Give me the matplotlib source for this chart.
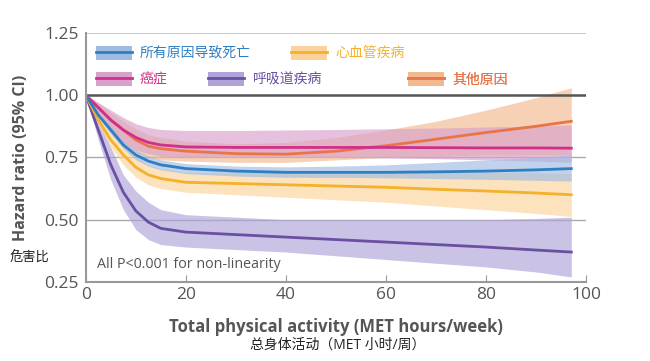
import matplotlib
matplotlib.use("Agg")
import matplotlib.pyplot as plt
from matplotlib.patches import Patch
from matplotlib.lines import Line2D

plt.rcParams['font.family'] = ['Open Sans', 'Noto Sans CJK SC', 'DejaVu Sans']

# MET hours/week
x = [0, 2.5, 5, 7.5, 10, 12.5, 15, 20, 30, 40, 50, 60, 70, 80, 90, 97]

all_cause = [1.0, 0.92, 0.86, 0.80, 0.76, 0.735, 0.72, 0.705, 0.695, 0.69, 0.69, 0.69, 0.692, 0.695, 0.70, 0.705]
all_lo = [1.0, 0.91, 0.845, 0.785, 0.74, 0.715, 0.70, 0.685, 0.675, 0.67, 0.67, 0.668, 0.665, 0.662, 0.658, 0.655]
all_hi = [1.0, 0.93, 0.875, 0.815, 0.78, 0.755, 0.74, 0.725, 0.715, 0.712, 0.715, 0.72, 0.73, 0.74, 0.75, 0.76]

cvd = [1.0, 0.90, 0.82, 0.76, 0.71, 0.68, 0.665, 0.65, 0.645, 0.64, 0.635, 0.63, 0.622, 0.615, 0.607, 0.60]
cvd_lo = [1.0, 0.88, 0.79, 0.72, 0.67, 0.64, 0.625, 0.61, 0.60, 0.59, 0.58, 0.57, 0.555, 0.54, 0.525, 0.513]
cvd_hi = [1.0, 0.92, 0.85, 0.80, 0.75, 0.72, 0.705, 0.69, 0.69, 0.69, 0.69, 0.69, 0.69, 0.69, 0.688, 0.685]

cancer = [1.0, 0.95, 0.90, 0.86, 0.83, 0.81, 0.80, 0.792, 0.79, 0.79, 0.79, 0.79, 0.789, 0.788, 0.788, 0.787]
cancer_lo = [1.0, 0.92, 0.86, 0.81, 0.78, 0.765, 0.755, 0.75, 0.75, 0.75, 0.75, 0.748, 0.745, 0.74, 0.735, 0.73]
cancer_hi = [1.0, 0.97, 0.94, 0.91, 0.885, 0.87, 0.862, 0.858, 0.858, 0.86, 0.862, 0.865, 0.868, 0.872, 0.876, 0.88]

resp = [1.0, 0.86, 0.72, 0.61, 0.535, 0.49, 0.465, 0.45, 0.44, 0.43, 0.42, 0.41, 0.40, 0.39, 0.378, 0.37]
resp_lo = [1.0, 0.82, 0.66, 0.54, 0.46, 0.42, 0.40, 0.39, 0.38, 0.37, 0.355, 0.34, 0.325, 0.31, 0.29, 0.27]
resp_hi = [1.0, 0.90, 0.79, 0.68, 0.615, 0.57, 0.54, 0.52, 0.51, 0.50, 0.50, 0.50, 0.50, 0.50, 0.505, 0.51]

other = [1.0, 0.95, 0.90, 0.86, 0.82, 0.795, 0.785, 0.775, 0.765, 0.763, 0.775, 0.797, 0.823, 0.85, 0.875, 0.895]
other_lo = [1.0, 0.92, 0.86, 0.81, 0.77, 0.75, 0.74, 0.735, 0.73, 0.73, 0.74, 0.75, 0.755, 0.76, 0.76, 0.76]
other_hi = [1.0, 0.97, 0.93, 0.895, 0.865, 0.84, 0.83, 0.815, 0.805, 0.81, 0.83, 0.86, 0.895, 0.94, 0.99, 1.03]

series = [
    ("其他原因", other, other_lo, other_hi, "#e8744a", "#f2b98f"),
    ("癌症", cancer, cancer_lo, cancer_hi, "#d02f8a", "#d9a0cc"),
    ("呼吸道疾病", resp, resp_lo, resp_hi, "#6a4fa3", "#b0a3d8"),
    ("心血管疾病", cvd, cvd_lo, cvd_hi, "#f4b12a", "#fbd39a"),
    ("所有原因导致死亡", all_cause, all_lo, all_hi, "#2f7ec2", "#9fbbe2"),
]

fig = plt.figure(figsize=(6.5, 3.61), dpi=100)
ax = fig.add_axes([0.132, 0.219, 0.770, 0.690])

for name, y, lo, hi, c, bc in series:
    ax.fill_between(x, lo, hi, color=bc, alpha=0.65, lw=0)
for name, y, lo, hi, c, bc in series:
    ax.plot(x, y, color=c, lw=2)

ax.axhline(1.0, color="#555555", lw=1.8, zorder=1)
ax.axhline(1.25, color="#cccccc", lw=1.5, zorder=0)
for v in [0.5, 0.75]:
    ax.axhline(v, color="#aaaaaa", lw=1, zorder=0)

ax.set_xlim(0, 100)
ax.set_ylim(0.25, 1.25)
ax.set_xticks([0, 20, 40, 60, 80, 100])
ax.set_yticks([0.25, 0.5, 0.75, 1.0, 1.25])
ax.set_yticklabels(["0.25", "0.50", "0.75", "1.00", "1.25"])
for s in ["top", "right"]:
    ax.spines[s].set_visible(False)
for s in ["left", "bottom"]:
    ax.spines[s].set_color("#999999")
    ax.spines[s].set_linewidth(1.5)
ax.tick_params(axis="x", direction="in", length=5, color="#999999", labelsize=12.5,
               labelcolor="#555555", pad=4)
ax.tick_params(axis="y", length=0, labelsize=12.5, labelcolor="#555555", pad=5)

ax.set_ylabel("Hazard ratio (95% CI)", fontsize=11.5, fontweight="bold", color="#555555")
ax.yaxis.set_label_coords(-0.114, 0.5)
ax.set_xlabel("Total physical activity (MET hours/week)", fontsize=12, fontweight="bold",
              color="#555555")
ax.xaxis.set_label_coords(0.5, -0.143)
fig.text(0.52, 0.044, "总身体活动（MET 小时/周）", ha="center", va="center", fontsize=10, color="#222222")
fig.text(0.015, 0.285, "危害比", ha="left", va="center", fontsize=9.5, color="#222222")
ax.text(0.022, 0.07, "All P<0.001 for non-linearity", transform=ax.transAxes,
        fontsize=10.3, color="#555555", va="center")

# legend, one entry each
entries = [
    ("所有原因导致死亡", "#2f7ec2", "#9fbbe2", 0.0, 0.985),
    ("心血管疾病", "#f4b12a", "#fbd39a", 0.39, 0.985),
    ("癌症", "#d02f8a", "#d9a0cc", 0.0, 0.88),
    ("呼吸道疾病", "#6a4fa3", "#b0a3d8", 0.225, 0.88),
    ("其他原因", "#e8744a", "#f2b98f", 0.625, 0.88),
]
for label, c, bc, lx, ly in entries:
    h = (Patch(facecolor=bc, edgecolor="none"), Line2D([], [], color=c, lw=2))
    leg = ax.legend([h], [label], loc="upper left", bbox_to_anchor=(lx, ly),
                    frameon=False, fontsize=10, handlelength=2.6, handleheight=1.1,
                    handletextpad=0.6, borderaxespad=0.3)
    for t in leg.get_texts():
        t.set_color(c)
    ax.add_artist(leg)

fig.savefig("out.png", dpi=100)
